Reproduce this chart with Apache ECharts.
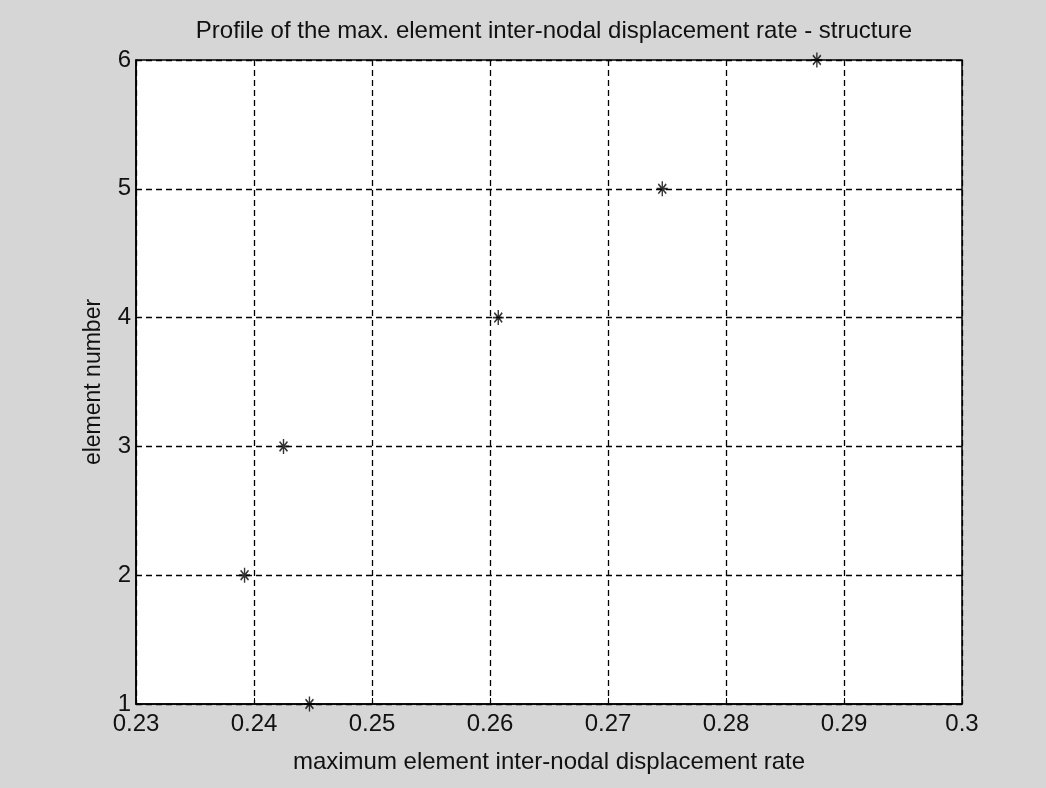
<!DOCTYPE html>
<html>
<head>
<meta charset="UTF-8">
<title>displacement rate profile</title>
<script src="https://cdn.jsdelivr.net/npm/echarts@6/dist/echarts.min.js"></script>
<style>
  body { margin: 0; background: #d6d6d6; }
  #main { width: 1046px; height: 788px; }
</style>
</head>
<body>
<div id="main"></div>
<script>
// data
var elementNo = [1, 2, 3, 4, 5, 6];
var dispRate = [0.2447, 0.2392, 0.2425, 0.2607, 0.2746, 0.2877];

var pts = [];
for (var i = 0; i < elementNo.length; i++) {
  pts.push([dispRate[i], elementNo[i]]);
}

var font = 'Liberation Sans, Arial, sans-serif';
var star = 'path://M0,-7L0,7M-5,0L5,0M-3.6,-4.5L3.6,4.5M-3.6,4.5L3.6,-4.5';
var dash = { color: '#000', type: [6, 4], width: 1.3 };

var chart = echarts.init(document.getElementById('main'));
chart.setOption({
  backgroundColor: '#d6d6d6',
  animation: false,
  title: {
    text: 'Profile of the max. element inter-nodal displacement rate - structure',
    left: 549, top: 14, textAlign: 'center',
    textStyle: { fontFamily: font, fontSize: 24, fontWeight: 'normal', color: '#111' }
  },
  grid: { left: 136, right: 84, top: 60, bottom: 84, show: true, backgroundColor: '#fff', borderColor: '#000', borderWidth: 1.5 },
  xAxis: [{
    type: 'value', min: 0.23, max: 0.3, interval: 0.01,
    name: 'maximum element inter-nodal displacement rate',
    nameLocation: 'middle', nameGap: 46,
    nameTextStyle: { fontFamily: font, fontSize: 24, color: '#111' },
    axisLine: { lineStyle: { color: '#000', width: 1.5 } },
    axisTick: { inside: true, length: 6, lineStyle: { color: '#000' } },
    axisLabel: { fontFamily: font, fontSize: 24, color: '#111', margin: 8,
      formatter: function (v) { return String(+v.toFixed(2)); } },
    splitLine: { show: true, lineStyle: dash }
  }, {
    type: 'value', position: 'top', min: 0.23, max: 0.3, interval: 0.01,
    axisLine: { show: false }, axisLabel: { show: false }, splitLine: { show: false },
    axisTick: { inside: true, length: 6, lineStyle: { color: '#000' } }
  }],
  yAxis: [{
    type: 'value', min: 1, max: 6, interval: 1,
    name: 'element number',
    nameLocation: 'middle', nameGap: 31,
    nameTextStyle: { fontFamily: font, fontSize: 23, color: '#111' },
    axisLine: { show: true, lineStyle: { color: '#000', width: 1.5 } },
    axisTick: { show: true, inside: true, length: 6, lineStyle: { color: '#000' } },
    axisLabel: { fontFamily: font, fontSize: 24, color: '#111', margin: 5 },
    splitLine: { show: true, lineStyle: dash }
  }, {
    type: 'value', position: 'right', min: 1, max: 6, interval: 1,
    axisLine: { show: false }, axisLabel: { show: false }, splitLine: { show: false },
    axisTick: { show: true, inside: true, length: 6, lineStyle: { color: '#000' } }
  }],
  series: [{
    type: 'scatter',
    data: pts,
    symbol: star,
    symbolSize: [11, 15],
    itemStyle: { color: 'rgba(0,0,0,0)', borderColor: '#000', borderWidth: 1.6 }
  }]
});
</script>
</body>
</html>
